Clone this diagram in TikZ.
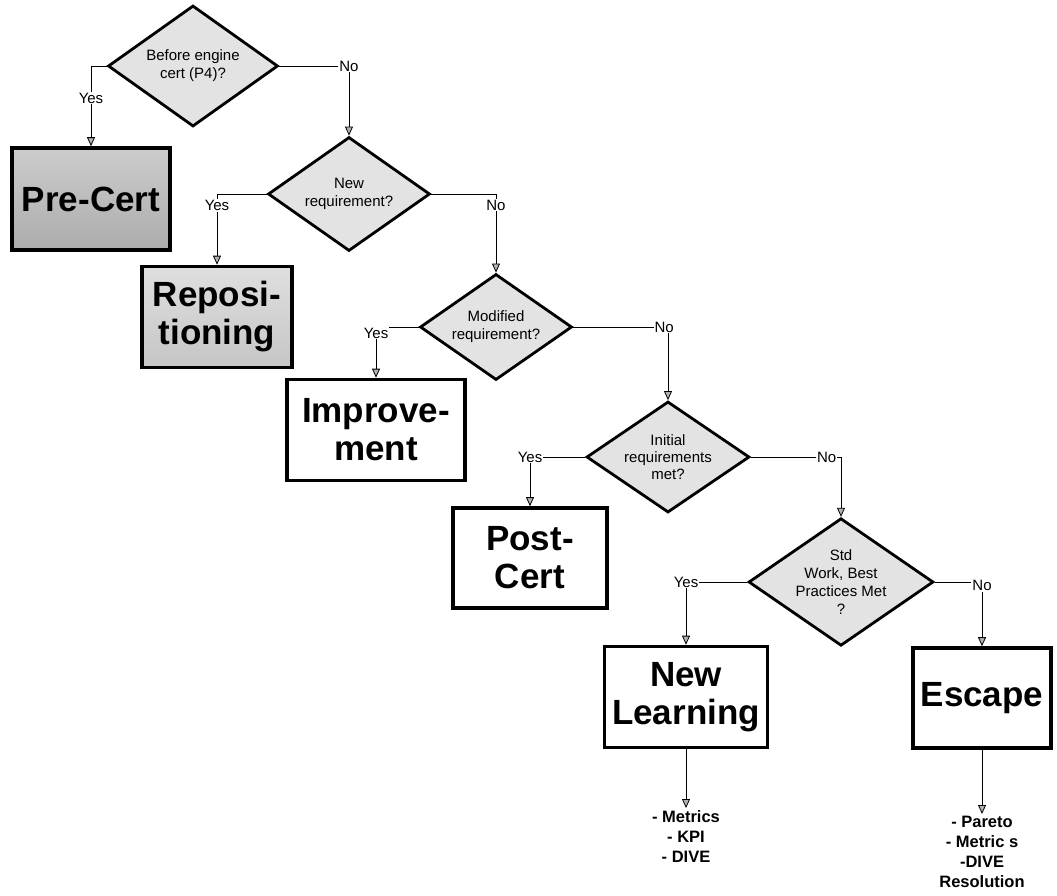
\documentclass[tikz,border=0pt]{standalone}
\usepackage{fontspec}
\setmainfont{Liberation Sans}
\usetikzlibrary{shapes.geometric,arrows.meta}
\tikzset{
  decision/.style={draw,diamond,line width=2.8pt,fill=gray!22,inner sep=0pt,aspect=1.45,
    align=center,font=\fontsize{15}{18}\selectfont},
  outcome/.style={draw,rectangle,line width=3.6pt,fill=white,inner sep=0pt,align=center,
    font=\fontsize{35}{38}\selectfont\bfseries},
  flow/.style={line width=0.8pt,-{Triangle[length=9pt,width=8pt,fill=gray!60]}},
  answer/.style={fill=white,inner sep=1pt,font=\fontsize{15}{16}\selectfont},
  todo/.style={align=center,inner sep=2pt,font=\fontsize{16.5}{20}\selectfont\bfseries}
}
\begin{document}
\begin{tikzpicture}[x=1pt,y=-1pt]
\useasboundingbox (0,0) rectangle (1057,895);
% decisions
\node[decision,minimum width=170pt,minimum height=121pt] (d1) at (193,66) {Before engine\\cert (P4)?};
\node[decision,minimum width=162pt,minimum height=114pt] (d2) at (349,194) {New\\requirement?};
\node[decision,minimum width=152pt,minimum height=106pt] (d3) at (496,327) {Modified\\requirement?};
\node[decision,minimum width=163pt,minimum height=111pt,font=\fontsize{15}{17}\selectfont] (d4) at (668,457) {Initial\\requirements\\met?};
\node[decision,minimum width=175pt,minimum height=123pt,font=\fontsize{15}{18}\selectfont] (d5) at (841,582) {Std\\Work, Best\\Practices Met\\?};
% outcomes
\node[outcome,minimum width=158pt,minimum height=102pt,shading=axis,top color=gray!40,bottom color=gray!65] (precert) at (91,199) {Pre-Cert};
\node[outcome,minimum width=150pt,minimum height=101pt,shading=axis,top color=gray!25,bottom color=gray!45] (repos) at (217,317) {Reposi-\\tioning};
\node[outcome,minimum width=178pt,minimum height=101pt] (improve) at (376,430) {Improve-\\ment};
\node[outcome,minimum width=154pt,minimum height=100pt] (postcert) at (530,558) {Post-\\Cert};
\node[outcome,minimum width=163pt,minimum height=101pt] (learning) at (686,697) {New\\Learning};
\node[outcome,minimum width=138pt,minimum height=100pt] (escape) at (982,698) {Escape};
% follow-up lists
\node[todo,anchor=north] (learnlist) at (686,808) {- Metrics\\- KPI\\- DIVE};
\node[todo,anchor=north] (escapelist) at (982,814) {- Pareto\\- Metric s\\-DIVE\\Resolution};
% connectors
\draw[flow] (d1.west) -| node[answer,pos=0.7] {Yes} (precert.north);
\draw[flow] (d1.east) -| node[answer,pos=0.5] {No} (d2.north);
\draw[flow] (d2.west) -| node[answer,pos=0.58] {Yes} (repos.north);
\draw[flow] (d2.east) -| node[answer,pos=0.57] {No} (d3.north);
\draw[flow] (d3.west) -| node[answer,pos=0.56] {Yes} (improve.north);
\draw[flow] (d3.east) -| node[answer,pos=0.48] {No} (d4.north);
\draw[flow] (d4.west) -| node[answer,pos=0.5] {Yes} (postcert.north);
\draw[flow] (d4.east) -| node[answer,pos=0.42] {No} (d5.north);
\draw[flow] (d5.west) -| node[answer,pos=0.5] {Yes} (learning.north);
\draw[flow] (d5.east) -| node[answer,pos=0.53] {No} (escape.north);
\draw[flow] (learning.south) -- (learnlist.north);
\draw[flow] (escape.south) -- (escapelist.north);
\end{tikzpicture}
\end{document}
